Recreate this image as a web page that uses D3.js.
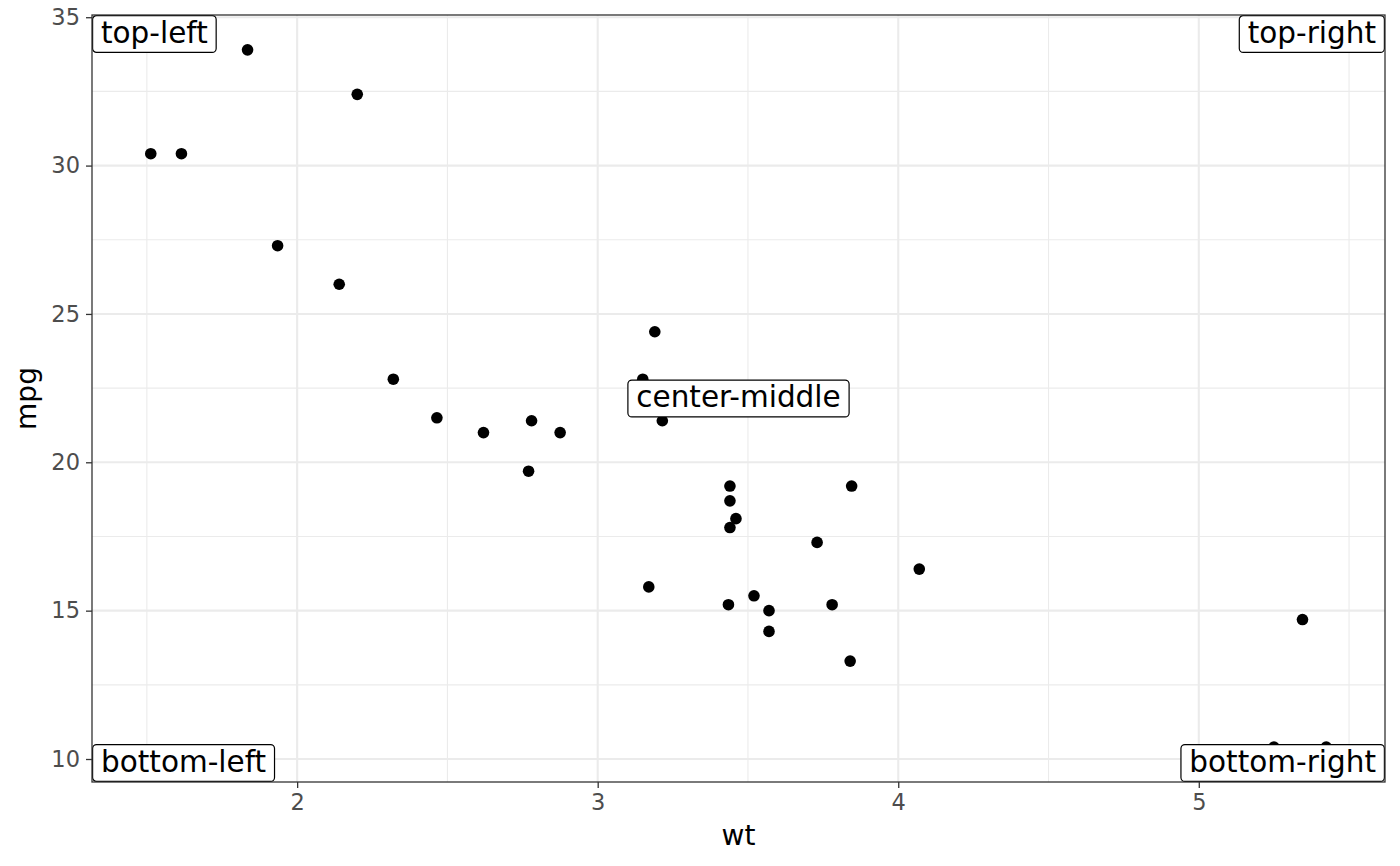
<!DOCTYPE html>
<html>
<head>
<meta charset="utf-8">
<script src="https://cdn.jsdelivr.net/npm/d3@7"></script>
<style>
  body { margin: 0; background: #fff; }
  svg { display: block; font-family: "DejaVu Sans", sans-serif; }
</style>
</head>
<body>
<svg id="chart" width="1400" height="866"></svg>
<script>
// mtcars: weight (1000 lbs) and miles per gallon
var wt = [2.620, 2.875, 2.320, 3.215, 3.440, 3.460, 3.570, 3.190, 3.150, 3.440,
          3.440, 4.070, 3.730, 3.780, 5.250, 5.424, 5.345, 2.200, 1.615, 1.835,
          2.465, 3.520, 3.435, 3.840, 3.845, 1.935, 2.140, 1.513, 3.170, 2.770,
          3.570, 2.780];
var mpg = [21.0, 21.0, 22.8, 21.4, 18.7, 18.1, 14.3, 24.4, 22.8, 19.2,
           17.8, 16.4, 17.3, 15.2, 10.4, 10.4, 14.7, 32.4, 30.4, 33.9,
           21.5, 15.5, 15.2, 13.3, 19.2, 27.3, 26.0, 30.4, 15.8, 19.7,
           15.0, 21.4];

var xTicks = [2, 3, 4, 5];
var yTicks = [10, 15, 20, 25, 30, 35];
var xMinor = [1.5, 2.5, 3.5, 4.5, 5.5];
var yMinor = [12.5, 17.5, 22.5, 27.5, 32.5];

// annotation labels: text + horizontal / vertical placement in the panel
var labelText = ['top-left', 'top-right', 'bottom-left', 'bottom-right', 'center-middle'];
var labelH = ['left', 'right', 'left', 'right', 'center'];
var labelV = ['top', 'top', 'bottom', 'bottom', 'middle'];

var svg = d3.select('#chart');
var margin = {left: 92, right: 15, top: 15, bottom: 84};
var W = 1400, H = 866;
var pw = W - margin.left - margin.right;
var ph = H - margin.top - margin.bottom;

// ggplot-like 5% expansion
function expand(ext) {
  var d = (ext[1] - ext[0]) * 0.05;
  return [ext[0] - d, ext[1] + d];
}

var x = d3.scaleLinear().domain(expand(d3.extent(wt))).range([0, pw]);
var y = d3.scaleLinear().domain(expand(d3.extent(mpg))).range([ph, 0]);

var g = svg.append('g').attr('transform', 'translate(' + margin.left + ',' + margin.top + ')');

// grid
g.selectAll('.xminor').data(xMinor.filter(function(v) {
    return v >= x.domain()[0] && v <= x.domain()[1];
  })).enter().append('line')
  .attr('x1', x).attr('x2', x).attr('y1', 0).attr('y2', ph)
  .attr('stroke', '#EBEBEB').attr('stroke-width', 1.1);
g.selectAll('.yminor').data(yMinor).enter().append('line')
  .attr('y1', y).attr('y2', y).attr('x1', 0).attr('x2', pw)
  .attr('stroke', '#EBEBEB').attr('stroke-width', 1.1);
g.selectAll('.xmajor').data(xTicks).enter().append('line')
  .attr('x1', x).attr('x2', x).attr('y1', 0).attr('y2', ph)
  .attr('stroke', '#EBEBEB').attr('stroke-width', 2.1);
g.selectAll('.ymajor').data(yTicks).enter().append('line')
  .attr('y1', y).attr('y2', y).attr('x1', 0).attr('x2', pw)
  .attr('stroke', '#EBEBEB').attr('stroke-width', 2.1);

// points
g.selectAll('circle').data(wt).enter().append('circle')
  .attr('cx', function(d) { return x(d); })
  .attr('cy', function(d, i) { return y(mpg[i]); })
  .attr('r', 5.8)
  .attr('fill', '#000');

// labels
var fs = 29.5, pad = 9;
labelText.forEach(function(t, i) {
  var lg = g.append('g');
  var txt = lg.append('text').text(t)
    .attr('font-size', fs).attr('fill', '#000');
  var tw = txt.node().getComputedTextLength();
  var bw = tw + 2 * pad, bh = fs * 0.68 + 2 * pad;
  var bx, by;
  if (labelH[i] === 'left') bx = 0;
  else if (labelH[i] === 'right') bx = pw - bw;
  else bx = pw / 2 - bw / 2;
  if (labelV[i] === 'top') by = 0;
  else if (labelV[i] === 'bottom') by = ph - bh;
  else by = ph / 2 - bh / 2;
  lg.insert('rect', 'text')
    .attr('x', bx + 0.6).attr('y', by + 0.6)
    .attr('width', bw - 1.2).attr('height', bh - 1.2)
    .attr('rx', 4).attr('ry', 4)
    .attr('fill', '#fff').attr('stroke', '#000').attr('stroke-width', 1.2);
  txt.attr('x', bx + pad).attr('y', by + bh / 2 + fs * 0.3);
});

// panel border
g.append('rect').attr('width', pw).attr('height', ph)
  .attr('fill', 'none').attr('stroke', '#333333').attr('stroke-width', 1.3);

// axes
var xAxis = g.append('g').attr('transform', 'translate(0,' + ph + ')')
  .call(d3.axisBottom(x).tickValues(xTicks).tickSize(6).tickPadding(6).tickFormat(d3.format('d')));
var yAxis = g.append('g')
  .call(d3.axisLeft(y).tickValues(yTicks).tickSize(6).tickPadding(6).tickFormat(d3.format('d')));
[xAxis, yAxis].forEach(function(a) {
  a.select('.domain').remove();
  a.selectAll('line').attr('stroke', '#333333').attr('stroke-width', 1.3);
  a.selectAll('text').attr('fill', '#4D4D4D').attr('font-size', 22.5)
    .attr('font-family', '"DejaVu Sans", sans-serif');
});

// axis titles
svg.append('text').text('wt')
  .attr('x', margin.left + pw / 2).attr('y', 845)
  .attr('text-anchor', 'middle').attr('font-size', 28).attr('fill', '#000');
svg.append('text').text('mpg')
  .attr('transform', 'translate(36,' + (margin.top + ph / 2) + ') rotate(-90)')
  .attr('text-anchor', 'middle').attr('font-size', 28).attr('fill', '#000');
</script>
</body>
</html>
